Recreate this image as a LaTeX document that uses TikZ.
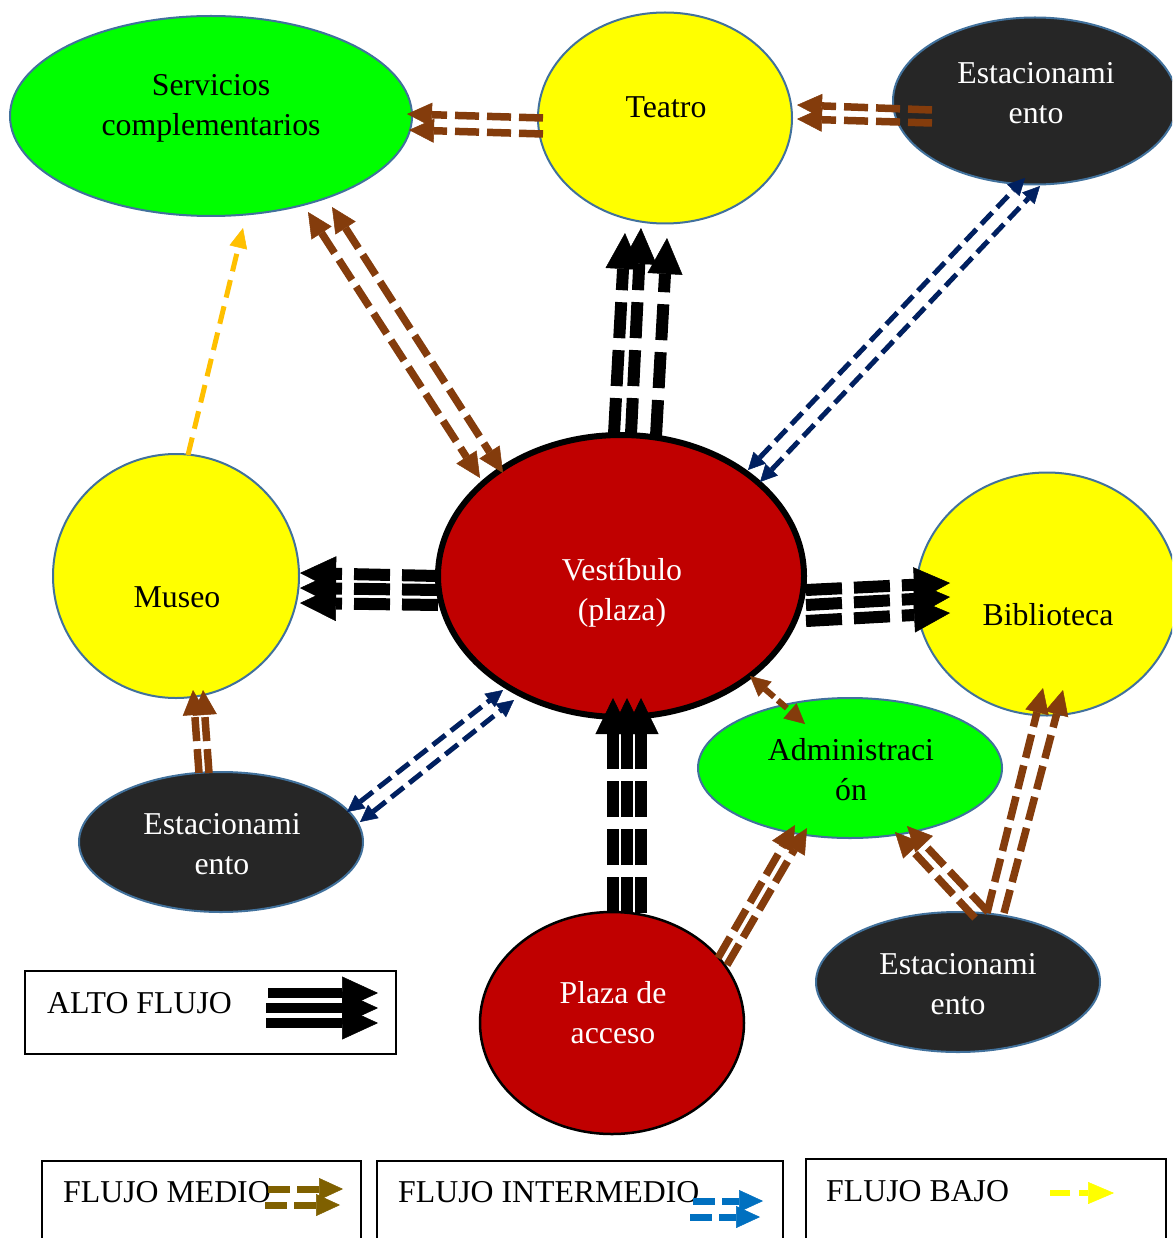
\documentclass[tikz,border=0pt]{standalone}
\usepackage{fontspec}
\setmainfont{Liberation Serif}
\usetikzlibrary{arrows.meta,shapes.geometric,calc}
\definecolor{cgreen}{RGB}{0,255,0}
\definecolor{cyellow}{RGB}{255,255,0}
\definecolor{cdark}{RGB}{38,38,38}
\definecolor{cred}{RGB}{192,0,0}
\definecolor{cedge}{RGB}{65,113,156}
\definecolor{cbrown}{RGB}{132,60,12}
\definecolor{cnavy}{RGB}{0,32,96}
\definecolor{cgold}{RGB}{255,192,0}
\definecolor{colive}{RGB}{127,96,0}
\definecolor{cblue}{RGB}{0,112,192}
\begin{document}
\begin{tikzpicture}[x=1pt,y=-1pt,
  blob/.style 2 args={ellipse, draw=cedge, line width=2pt, inner sep=0pt, outer sep=0pt,
     minimum width=#1pt, minimum height=#2pt},
  txt/.style={font=\fontsize{31.8}{40}\selectfont, align=center, inner sep=0pt},
  legbox/.style 2 args={rectangle, draw=black, line width=1.5pt, inner sep=0pt,
     minimum width=#1pt, minimum height=#2pt},
  brownA/.style={draw=cbrown, line width=7.5pt, dash pattern=on 24pt off 8pt,
     -{Triangle[length=25pt,width=24pt,line width=0.5pt]}},
  brownD/.style={draw=cbrown, line width=7.5pt, dash pattern=on 24pt off 8pt,
     {Triangle[length=25pt,width=24pt,line width=0.5pt]}-{Triangle[length=25pt,width=24pt,line width=0.5pt]}},
  brownS/.style={draw=cbrown, line width=6pt, dash pattern=on 12pt off 5pt,
     {Triangle[length=20pt,width=20pt,line width=0.5pt]}-{Triangle[length=20pt,width=20pt,line width=0.5pt]}},
  blackA/.style={draw=black, line width=12pt, dash pattern=on 36pt off 12pt,
     -{Triangle[length=36pt,width=35pt,line width=0.5pt]}},
  navyD/.style={draw=cnavy, line width=5pt, dash pattern=on 16pt off 7pt,
     {Triangle[length=17pt,width=17pt,line width=0.5pt]}-{Triangle[length=17pt,width=17pt,line width=0.5pt]}},
  goldA/.style={draw=cgold, line width=5pt, dash pattern=on 18pt off 9pt,
     -{Triangle[length=20pt,width=18pt,line width=0.5pt]}},
  altoA/.style={draw=black, line width=10.5pt,
     -{Triangle[length=36pt,width=33pt,line width=0.5pt]}},
  medioA/.style={draw=colive, line width=7pt, dash pattern=on 22pt off 7pt,
     -{Triangle[length=24pt,width=22pt,line width=0.5pt]}},
  interA/.style={draw=cblue, line width=7pt, dash pattern=on 22pt off 7pt,
     -{Triangle[length=24pt,width=22pt,line width=0.5pt]}},
  bajoA/.style={draw=cyellow, line width=6.5pt, dash pattern=on 20pt off 9pt,
     -{Triangle[length=26pt,width=22pt,line width=0.5pt]}}
]
\useasboundingbox (0,0) rectangle (1172,1238);
\clip (0,0) rectangle (1172,1238);
\fill[white] (0,0) rectangle (1172,1238);

% ellipses
\node[blob={402}{200}, fill=cgreen] (serv) at (211,116) {};
\node[blob={254}{211}, fill=cyellow] (teat) at (665,118) {};
\node[blob={284}{167}, fill=cdark] (estA) at (1035,101) {};
\node[blob={246}{244}, fill=cyellow] (museo) at (176,576) {};
\node[blob={366}{282}, fill=cred, draw=black, line width=6pt] (vest) at (621,576) {};
\node[blob={262}{243}, fill=cyellow] (bibl) at (1047,594) {};
\node[blob={304}{140}, fill=cgreen] (admin) at (850,768) {};
\node[blob={284}{140}, fill=cdark] (estL) at (221,842) {};
\node[blob={264}{222}, fill=cred, draw=black, line width=2.5pt] (plaza) at (612,1023) {};
\node[blob={284}{140}, fill=cdark] (estB) at (958,982) {};

% texts
\node[txt] (tserv) at (211,108) {Servicios\\complementarios};
\node[txt, anchor=base] (tteat) at (666,118) {Teatro};
\node[txt, text=white] (testA) at (1036,93) {Estacionami\\ento};
\node[txt, anchor=base] (tmuseo) at (177,607) {Museo};
\node[txt, text=white] (tvest) at (622,593) {Vestíbulo\\(plaza)};
\node[txt, anchor=base] (tbibl) at (1048,625) {Biblioteca};
\node[txt] (tadmin) at (851,770) {Administraci\\ón};
\node[txt, text=white] (testL) at (222,844) {Estacionami\\ento};
\node[txt, text=white] (tplaza) at (613,1013) {Plaza de\\acceso};
\node[txt, text=white] (testB) at (958,984) {Estacionami\\ento};

% legend boxes
\node[legbox={371}{83}] (bAlto) at (210.5,1012.5) {};
\node[legbox={319}{139}] (bMedio) at (201.5,1230.5) {};
\node[legbox={406}{139}] (bInter) at (580,1230.5) {};
\node[legbox={360}{141}] (bBajo) at (986,1229.5) {};
\node[txt, anchor=base west] (lAlto) at (47,1013) {ALTO FLUJO};
\node[txt, anchor=base west] (lMedio) at (63,1202) {FLUJO MEDIO};
\node[txt, anchor=base west] (lInter) at (398,1202) {FLUJO INTERMEDIO};
\node[txt, anchor=base west] (lBajo) at (826,1201) {FLUJO BAJO};

% connectors
% Teatro -> Servicios
\draw[brownA] ($(teat)+(-122,0)$) -- ($(serv)+(196,-2)$);
\draw[brownA] ($(teat)+(-122,16)$) -- ($(serv)+(198,14)$);
% Estacionamiento -> Teatro
\draw[brownA] ($(estA)+(-103,9)$) -- ($(teat)+(132,-13)$);
\draw[brownA] ($(estA)+(-103,22)$) -- ($(teat)+(132,1)$);
% Servicios <-> Vestibulo
\draw[brownD] ($(serv)+(97,96)$) -- ($(vest)+(-141,-98)$);
\draw[brownD] ($(serv)+(121,91)$) -- ($(vest)+(-118,-103)$);
% Vestibulo -> Teatro
\draw[blackA] ($(vest)+(-7,-142)$) -- ($(teat)+(-40,115)$);
\draw[blackA] ($(vest)+(10,-142)$) -- ($(teat)+(-24,110)$);
\draw[blackA] ($(vest)+(35,-140)$) -- ($(teat)+(2,120)$);
% Vestibulo <-> Estacionamiento (top)
\draw[navyD] ($(vest)+(127,-106)$) -- ($(estA)+(-10,77)$);
\draw[navyD] ($(vest)+(139,-94)$) -- ($(estA)+(5,85)$);
% Vestibulo -> Museo
\draw[blackA] ($(vest)+(-183,0)$) -- ($(museo)+(124,-3)$);
\draw[blackA] ($(vest)+(-183,14)$) -- ($(museo)+(124,12)$);
\draw[blackA] ($(vest)+(-183,29)$) -- ($(museo)+(124,27)$);
% Vestibulo -> Biblioteca
\draw[blackA] ($(vest)+(185,14)$) -- ($(bibl)+(-97,-11)$);
\draw[blackA] ($(vest)+(185,29)$) -- ($(bibl)+(-97,3)$);
\draw[blackA] ($(vest)+(185,45)$) -- ($(bibl)+(-97,19)$);
% Plaza -> Vestibulo
\draw[blackA] ($(plaza)+(1,-110)$) -- ($(vest)+(-8,122)$);
\draw[blackA] ($(plaza)+(15,-110)$) -- ($(vest)+(6,122)$);
\draw[blackA] ($(plaza)+(29,-110)$) -- ($(vest)+(20,122)$);
% Vestibulo <-> Administracion
\draw[brownS] ($(vest)+(129,100)$) -- ($(admin)+(-45,-44)$);
% Estacionamiento (left) <-> Vestibulo
\draw[navyD] ($(estL)+(126,-30)$) -- ($(vest)+(-118,114)$);
\draw[navyD] ($(estL)+(139,-20)$) -- ($(vest)+(-107,124)$);
% Estacionamiento (left) -> Museo
\draw[brownA] ($(estL)+(-22,-69)$) -- ($(museo)+(17,114)$);
\draw[brownA] ($(estL)+(-12,-69)$) -- ($(museo)+(27,114)$);
% Museo -> Servicios
\draw[goldA] ($(museo)+(12,-121)$) -- ($(serv)+(32,112)$);
% Plaza -> Administracion
\draw[brownA] ($(plaza)+(106,-65)$) -- ($(admin)+(-55,57)$);
\draw[brownA] ($(plaza)+(115,-58)$) -- ($(admin)+(-43,60)$);
% Estacionamiento (bottom) -> Administracion
\draw[brownA] ($(estB)+(17,-64)$) -- ($(admin)+(45,64)$);
\draw[brownA] ($(estB)+(30,-70)$) -- ($(admin)+(57,58)$);
% Estacionamiento (bottom) -> Biblioteca
\draw[brownA] ($(estB)+(29,-69)$) -- ($(bibl)+(-4,94)$);
\draw[brownA] ($(estB)+(46,-69)$) -- ($(bibl)+(16,96)$);

% legend arrows
\draw[altoA] ($(bAlto)+(57.5,-19.5)$) -- ($(bAlto)+(167.5,-19.5)$);
\draw[altoA] ($(bAlto)+(55.5,-4.5)$) -- ($(bAlto)+(167.5,-4.5)$);
\draw[altoA] ($(bAlto)+(55.5,10.5)$) -- ($(bAlto)+(167.5,10.5)$);
\draw[medioA] ($(bMedio)+(66.5,-41.5)$) -- ($(bMedio)+(141.5,-41.5)$);
\draw[medioA] ($(bMedio)+(63.5,-25.5)$) -- ($(bMedio)+(138.5,-25.5)$);
\draw[interA] ($(bInter)+(113,-29.5)$) -- ($(bInter)+(183,-29.5)$);
\draw[interA] ($(bInter)+(110,-13.5)$) -- ($(bInter)+(180,-13.5)$);
\draw[bajoA] ($(bBajo)+(64,-36.5)$) -- ($(bBajo)+(128,-36.5)$);
\end{tikzpicture}
\end{document}
